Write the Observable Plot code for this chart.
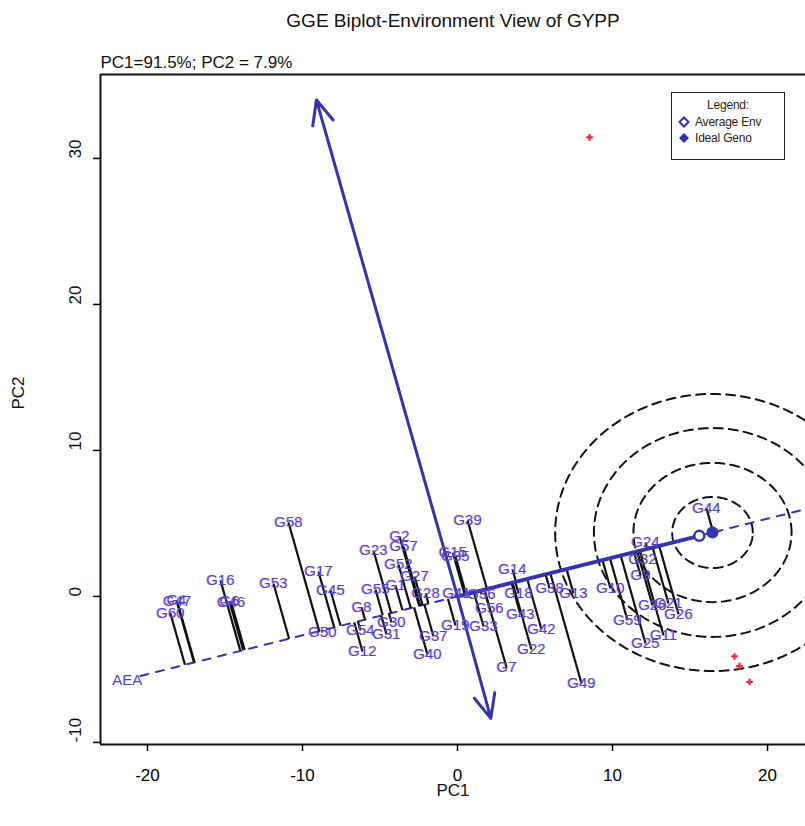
<!DOCTYPE html>
<html><head><meta charset="utf-8">
<script src="https://cdn.jsdelivr.net/npm/d3@7"></script>
<script src="https://cdn.jsdelivr.net/npm/@observablehq/plot@0.6"></script>
<style>
body{margin:0;background:#fff;font-family:"Liberation Sans",Arial,sans-serif;}
#wrap{position:relative;width:805px;height:826px;overflow:hidden;}
svg{display:block;}
#legend{position:absolute;left:671px;top:92px;width:114px;height:68px;border:1.5px solid #222;background:#fff;box-sizing:border-box;font-size:12px;color:#2a2410;letter-spacing:-0.2px;}
#legend .hd{text-align:center;margin-top:5px;margin-bottom:2px;}
#legend .row{display:flex;align-items:center;margin-left:6px;height:16px;}
#legend .row svg{margin-right:5px;}
</style>
</head><body>
<div id="wrap"><div id="chart"></div>
<div id="legend"><div class="hd">Legend:</div>
<div class="row"><svg width="12" height="12"><path d="M6,1.5L10.5,6L6,10.5L1.5,6Z" fill="none" stroke="#3030b0" stroke-width="2"/></svg>Average Env</div>
<div class="row"><svg width="12" height="12"><path d="M6,1L11,6L6,11L1,6Z" fill="#3030b0"/></svg>Ideal Geno</div>
</div></div>
<script>
// ---- data ----
const titleText = "GGE Biplot-Environment View of GYPP";
const subtitleText = "PC1=91.5%; PC2 = 7.9%";
const xTicks = [-20, -10, 0, 10, 20];
const yTicks = [-10, 0, 10, 20, 30];
const xDomain = [-23.03, 22.45];
const yDomain = [-10.14, 35.75];

const genoNames = ["G4","G60","G47","G16","G6","G46","G53","G58","G17","G45","G50",
  "G23","G2","G57","G52","G55","G27","G1","G28","G8","G30","G54","G31","G12","G37","G40",
  "G39","G35","G15","G14","G18","G43","G42","G22","G7","G19","G33","G41","G56","G36",
  "G38","G13","G49","G10","G24","G32","G3","G59","G20","G21","G26","G11","G25","G44"];
const genoPC1 = [-18.13,-18.52,-18.08,-15.29,-14.71,-14.60,-11.87,-10.90,-8.97,-8.19,-8.71,
  -5.42,-3.74,-3.48,-3.81,-5.29,-2.77,-4.00,-2.06,-6.19,-4.26,-6.26,-4.58,-6.13,-1.55,-1.94,
  0.65,-0.13,-0.30,3.55,3.94,4.06,5.42,4.77,3.16,-0.13,1.68,-0.06,2.06,1.55,
  5.94,7.48,8.00,9.87,12.13,11.94,11.81,10.97,12.58,13.61,14.26,13.29,12.13,16.06];
const genoPC2 = [-0.27,-1.16,-0.33,1.10,-0.34,-0.40,0.89,5.07,1.71,0.41,-2.47,
  3.15,4.11,3.42,2.19,0.48,1.37,0.75,0.21,-0.75,-1.78,-2.33,-2.60,-3.77,-2.74,-3.97,
  5.21,2.74,3.00,1.85,0.21,-1.23,-2.26,-3.63,-4.86,-1.99,-2.05,0.21,-0.82,0.14,
  0.55,0.21,-5.96,0.55,3.70,2.53,1.44,-1.64,-0.62,-0.48,-1.23,-2.67,-3.22,6.03];

const envPC1 = [8.52, 17.87, 18.19, 18.84];
const envPC2 = [31.44, -4.11, -4.77, -5.86];

const averageEnv = [15.6, 4.15];
const idealGeno = [16.45, 4.38];
const ringRadii = [2.6, 5.1, 7.65, 10.15];
const ringYRatio = 0.935;
const aeaExtent = [-20.45, 22.45];
const aeaLabel = {x: -21.3, y: -5.75, text: "AEA"};
const ordinateEnds = [[-9.1, 34.0], [2.15, -8.35]];

// ---- derived geometry ----
const dirLen = Math.hypot(idealGeno[0], idealGeno[1]);
const ux = idealGeno[0] / dirLen, uy = idealGeno[1] / dirLen;
const genos = genoNames.map((name, i) => {
  const x = genoPC1[i], y = genoPC2[i];
  const t = x * ux + y * uy;
  return {name, x, y, fx: t * ux, fy: t * uy};
});
const envs = envPC1.map((x, i) => ({x, y: envPC2[i]}));
const slope = idealGeno[1] / idealGeno[0];
const aeaLine = aeaExtent.map(x => ({x, y: x * slope}));
const rings = ringRadii.flatMap((r, i) => d3.range(0, 361, 2).map(a => ({
  ring: i,
  x: idealGeno[0] + r * Math.cos(a * Math.PI / 180),
  y: idealGeno[1] + r * ringYRatio * Math.sin(a * Math.PI / 180)
})));

const blue = "#3535a8";
const labelBlue = "#4c44c8";
const txt = {fill: "#111", lineAnchor: "middle", text: d => d};

const chart = Plot.plot({
  width: 805, height: 826,
  marginLeft: 100, marginRight: 0, marginTop: 74, marginBottom: 82,
  x: {domain: xDomain, axis: null},
  y: {domain: yDomain, axis: null},
  style: {fontFamily: "'Liberation Sans', Arial, sans-serif", background: "white", overflow: "visible"},
  marks: [
    Plot.line(rings, {x: "x", y: "y", z: "ring", stroke: "#111", strokeWidth: 2, strokeDasharray: "9,6", clip: true}),
    Plot.line(aeaLine, {x: "x", y: "y", stroke: blue, strokeWidth: 2, strokeDasharray: "8,8", clip: true}),
    Plot.link(genos, {x1: "x", y1: "y", x2: "fx", y2: "fy", stroke: "#111", strokeWidth: 2.2}),
    Plot.link([averageEnv], {x1: () => 0, y1: () => 0, x2: d => d[0], y2: d => d[1], stroke: blue, strokeWidth: 4}),
    Plot.arrow(ordinateEnds, {x1: () => 0, y1: () => 0, x2: d => d[0], y2: d => d[1], stroke: blue, strokeWidth: 3, headLength: 13, headAngle: 48}),
    Plot.dot(envs, {x: "x", y: "y", symbol: "cross", r: 2.8, fill: "#f02a3a"}),
    Plot.dot([averageEnv], {x: d => d[0], y: d => d[1], r: 5, stroke: blue, strokeWidth: 2.5, fill: "white"}),
    Plot.dot([idealGeno], {x: d => d[0], y: d => d[1], r: 6, fill: blue}),
    Plot.text(genos, {x: "x", y: "y", text: "name", fill: "#d070e0", fillOpacity: 0.45, fontSize: 15, dx: -1}),
    Plot.text(genos, {x: "x", y: "y", text: "name", fill: labelBlue, fontSize: 15}),
    Plot.text([aeaLabel], {x: "x", y: "y", text: "text", fill: labelBlue, fontSize: 15}),
    // frame (left, top, bottom)
    Plot.ruleX([xDomain[0]], {stroke: "#111", strokeWidth: 2}),
    Plot.ruleY([yDomain[0], yDomain[1]], {stroke: "#111", strokeWidth: 2}),
    // axes
    Plot.axisX(xTicks, {tickSize: 7, tickPadding: 17, fontSize: 17, tickFormat: d => String(d), label: null, strokeWidth: 1.5}),
    Plot.axisY(yTicks, {tickSize: 7, tickFormat: () => "", label: null, strokeWidth: 1.5}),
    Plot.text(yTicks, {y: d => d, text: d => String(d), frameAnchor: "left", dx: -25, rotate: -90, fontSize: 17, fill: "#111", lineAnchor: "middle"}),
    Plot.text(["PC1"], {...txt, frameAnchor: "bottom", dy: 46, fontSize: 17}),
    Plot.text(["PC2"], {...txt, frameAnchor: "left", dx: -82, rotate: -90, fontSize: 17}),
    Plot.text([titleText], {...txt, frameAnchor: "top", dy: -54, fontSize: 19, letterSpacing: "0.8px"}),
    Plot.text([subtitleText], {...txt, frameAnchor: "top-left", textAnchor: "start", dy: -12, fontSize: 17})
  ]
});
document.getElementById("chart").appendChild(chart);
</script>
</body></html>
